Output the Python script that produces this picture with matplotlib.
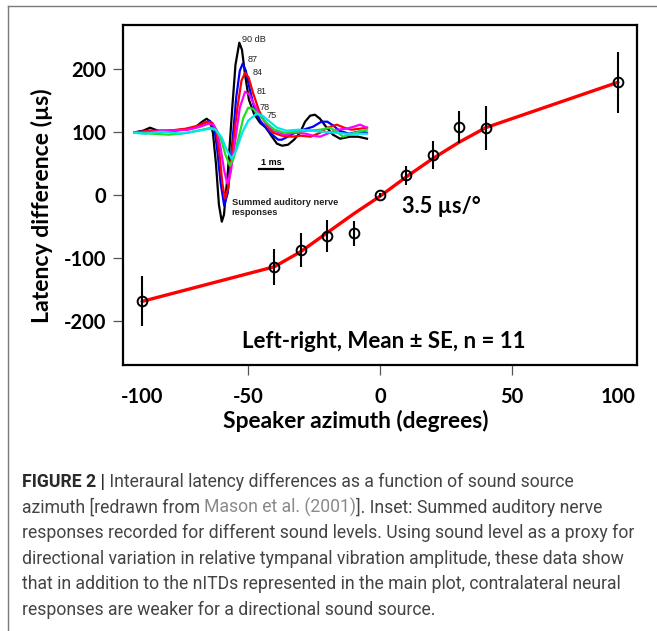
import numpy as np
import matplotlib
matplotlib.use('Agg')
import matplotlib.pyplot as plt
from matplotlib.lines import Line2D

# main plot: interaural latency difference vs speaker azimuth
azimuth = [-90, -40, -30, -20, -10, 0, 10, 20, 30, 40, 90]
latency = [-168, -114, -87, -65, -61, 0, 31, 63, 108, 107, 179]
latency_se = [40, 29, 27, 26, 20, 3, 15, 22, 25, 35, 48]

# red trend line as drawn
fit_az = [-90, -40, -30, -20, -10, 0, 10, 20, 30, 40, 90]
fit_lat = [-169, -114, -90, -60, -30, -2, 29, 58, 84, 107, 179]

xtick_pos = [-90, -50, 0, 50, 90]
xtick_lab = ['-100', '-50', '0', '50', '100']
ytick_pos = [200, 100, 0, -100, -200]
ytick_lab = ['200', '100', '0', '-100', '-200']

# inset: summed auditory nerve responses (time in ms, amplitude in arb. units)
t90 = [0, 0.42, 0.71, 1.04, 1.54, 2.17, 2.58, 2.88, 3.07, 3.21, 3.33, 3.46, 3.58, 3.70, 3.79, 3.96, 4.13,
       4.27, 4.43, 4.54, 4.67, 4.83, 5.04, 5.29, 5.54, 5.79, 6.0, 6.21, 6.46, 6.71, 6.96, 7.17, 7.38,
       7.58, 7.79, 8.04, 8.33, 8.63, 9.04, 9.38, 9.75]
a90 = [0, 2, 5, 2, 2, 3, 5, 11, 14, 11, 0, -32, -72, -89, -82, -37, 23,
       68, 90, 83, 58, 33, 19, 10, 5, -4, -11, -13, -12, -7, 0, 11, 17,
       18, 14, 6, -2, -6, -4, -4, -6]
t87 = [0, 0.6, 1.2, 2.0, 2.6, 3.0, 3.2, 3.38, 3.5, 3.65, 3.80, 3.95, 4.12, 4.3, 4.45, 4.57, 4.7, 4.85,
       5.05, 5.3, 5.6, 5.85, 6.05, 6.2, 6.45, 6.75, 7.1, 7.5, 7.85, 8.1, 8.35, 8.6, 9.0, 9.4, 9.75]
a87 = [0, 2, 1, 3, 5, 10, 12, 5, -15, -50, -73, -60, -15, 35, 62, 69, 62, 45,
       25, 12, 3, -3, -7, -7, -4, 0, 3, 6, 11, 11, 7, 2, -1, 1, 0]
t84 = [0, 0.7, 1.5, 2.2, 2.7, 3.1, 3.3, 3.45, 3.6, 3.72, 3.83, 3.97, 4.15, 4.35, 4.52, 4.67, 4.82, 5.0,
       5.25, 5.55, 5.85, 6.2, 6.6, 7.0, 7.4, 7.8, 8.1, 8.49, 8.8, 9.1, 9.45, 9.75]
a84 = [0, 2, 2, 4, 7, 11, 10, 3, -20, -50, -66, -55, -15, 25, 52, 60, 55, 40,
       22, 8, 0, -3, -4, -3, -4, 0, 5, 8, 5, 3, 4, 5]
t81 = [0, 0.8, 1.6, 2.3, 2.8, 3.15, 3.35, 3.5, 3.65, 3.8, 3.93, 4.07, 4.25, 4.45, 4.67, 4.85, 5.05, 5.3,
       5.6, 5.9, 6.3, 6.8, 7.2, 7.5, 7.79, 8.1, 8.5, 8.9, 9.2, 9.46, 9.75]
a81 = [0, 1, 2, 3, 6, 9, 8, 2, -15, -38, -51, -40, -10, 25, 41, 38, 28, 17,
       8, 2, -2, 0, -1, -3, -4, -1, 3, 4, 6, 8, 5]
t78 = [0, 0.8, 1.5, 2.3, 2.9, 3.25, 3.45, 3.65, 3.85, 4.04, 4.2, 4.4, 4.6, 4.8, 5.0, 5.25, 5.55, 5.9,
       6.3, 6.8, 7.3, 7.8, 8.21, 8.5, 8.75, 9.0, 9.4, 9.75]
a78 = [0, -1, -2, 0, 3, 5, 3, -5, -22, -33, -25, -5, 15, 25, 24, 18, 10, 3,
       0, 1, 2, 3, 5, 1, -4, -2, 1, 3]
t75 = [0, 0.5, 1.2, 2.0, 2.7, 3.2, 3.45, 3.7, 3.9, 4.11, 4.3, 4.55, 4.8, 5.15, 5.4, 5.7, 6.0, 6.4,
       6.9, 7.4, 7.9, 8.4, 8.9, 9.3, 9.75]
a75 = [0, -1, 1, -1, 2, 4, 3, -5, -17, -26, -18, 0, 12, 19, 17, 11, 5, 2,
       3, 2, 1, 0, -1, -1, -1]
levels = ['90 dB', '87', '84', '81', '78', '75']
level_colors = ['black', '#0000ff', '#ff0000', '#ff00ff', '#22dd22', '#00e5ee']
level_lab_t = [4.53, 4.78, 4.97, 5.15, 5.29, 5.57]
level_lab_a = [93, 73, 60, 41, 25, 17]

caption = [
    'Interaural latency differences as a function of sound source',
    'azimuth [redrawn from ',
    'responses recorded for different sound levels. Using sound level as a proxy for',
    'directional variation in relative tympanal vibration amplitude, these data show',
    'that in addition to the nITDs represented in the main plot, contralateral neural',
    'responses are weaker for a directional sound source.',
]

font_main = 'Lato'
W, H = 657, 631
fig = plt.figure(figsize=(W/100, H/100), dpi=100)

# outer frame lines of the figure panel
fig.add_artist(Line2D([8/W, 1], [1-6/H, 1-6/H], transform=fig.transFigure, color='#7a7a7a', lw=1))
fig.add_artist(Line2D([8/W, 8/W], [1-6/H, 0], transform=fig.transFigure, color='#7a7a7a', lw=1))

ax = fig.add_axes([123/W, 1-365/H, 514/W, 340/H])
ax.plot(fit_az, fit_lat, color='#ff0000', lw=2.4, zorder=2, solid_capstyle='round')
ax.errorbar(azimuth, latency, yerr=latency_se, fmt='none', ecolor='black', elinewidth=1.5, capsize=0, zorder=3)
ax.plot(azimuth, latency, 'o', ms=7, mfc='none', mec='black', mew=1.4, zorder=4)
ax.set_xlim(-97.2, 97.2)
ax.set_ylim(-270, 270)
ax.set_xticks(xtick_pos)
ax.set_xticklabels(xtick_lab, fontfamily=font_main, fontweight='bold', fontsize=14.5)
ax.set_yticks(ytick_pos)
ax.set_yticklabels(ytick_lab, fontfamily=font_main, fontweight='bold', fontsize=14.5)
ax.tick_params(axis='both', direction='out', length=7, width=0.9, color='#555555')
ax.tick_params(axis='x', pad=9)
ax.tick_params(axis='y', pad=5)
for tk in [ax.xaxis.get_major_ticks()[0], ax.xaxis.get_major_ticks()[-1]]:
    tk.tick1line.set_visible(False)
for sp in ax.spines.values():
    sp.set_linewidth(1.6)
    sp.set_color('black')
ax.set_xlabel('Speaker azimuth (degrees)', fontfamily=font_main, fontweight='bold', fontsize=16.4)
ax.xaxis.set_label_coords(0.452, -0.132)
ax.set_ylabel('Latency difference (\u00b5s)', fontfamily=font_main, fontweight='bold', fontsize=16.6)
ax.yaxis.set_label_coords(-0.136, 0.468)
ax.text(8.5, -18, '3.5 \u00b5s/\u00b0', fontfamily=font_main, fontweight='bold', fontsize=15.7, va='center', ha='left')
ax.text(1.5, -233, 'Left-right, Mean \u00b1 SE, n = 11', fontfamily=font_main, fontweight='bold', fontsize=16,
        va='center', ha='center')

# inset with the nerve responses
axi = fig.add_axes([133/W, 1-230/H, 240/W, 195/H])
axi.patch.set_alpha(0)
for t, a, c in zip([t90, t87, t84, t81, t78, t75], [a90, a87, a84, a81, a78, a75], level_colors):
    axi.plot(t, a, color=c, lw=1.6, solid_joinstyle='round')
for lab, x, y in zip(levels, level_lab_t, level_lab_a):
    axi.text(x, y, lab, fontfamily='Liberation Sans', fontsize=6.6, color='#222222', ha='left', va='center')
axi.plot([5.26, 6.26], [-36.6, -36.6], color='black', lw=1.6)
axi.text(5.76, -30, '1 ms', fontfamily='Liberation Sans', fontweight='bold', fontsize=6.5, ha='center', va='center')
axi.text(4.11, -75, 'Summed auditory nerve\nresponses', fontfamily='Liberation Sans', fontweight='bold',
         fontsize=6.7, color='#222222', ha='left', va='center', linespacing=1.1)
axi.set_xlim(0, 10)
axi.set_ylim(-97.3, 97.7)
axi.axis('off')

# caption
cap_font = 'Roboto'
cap_size = 12.7
cap_col = '#444444'
y0 = 1 - 487/H
dy = 25.6/H
t1 = fig.text(22/W, y0, 'FIGURE 2 |', fontfamily=cap_font, fontweight='bold', fontsize=cap_size, color='#2a2a2a', va='baseline')
plt.annotate(' ' + caption[0], xy=(1, 0), xycoords=t1, fontfamily=cap_font, fontsize=cap_size,
             color=cap_col, va='bottom', ha='left')
t2 = fig.text(22/W, y0 - dy, caption[1], fontfamily=cap_font, fontsize=cap_size, color=cap_col, va='baseline')
t2b = plt.annotate('Mason et al. (2001)', xy=(1, 0), xycoords=t2, fontfamily=cap_font, fontsize=cap_size,
                   color='#8a8a8a', va='bottom', ha='left')
plt.annotate(']. Inset: Summed auditory nerve', xy=(1, 0), xycoords=t2b, fontfamily=cap_font, fontsize=cap_size,
             color=cap_col, va='bottom', ha='left')
for i, line in enumerate(caption[2:]):
    fig.text(22/W, y0 - (i+2)*dy, line, fontfamily=cap_font, fontsize=cap_size, color=cap_col, va='baseline')

fig.savefig('out.png', dpi=100)
